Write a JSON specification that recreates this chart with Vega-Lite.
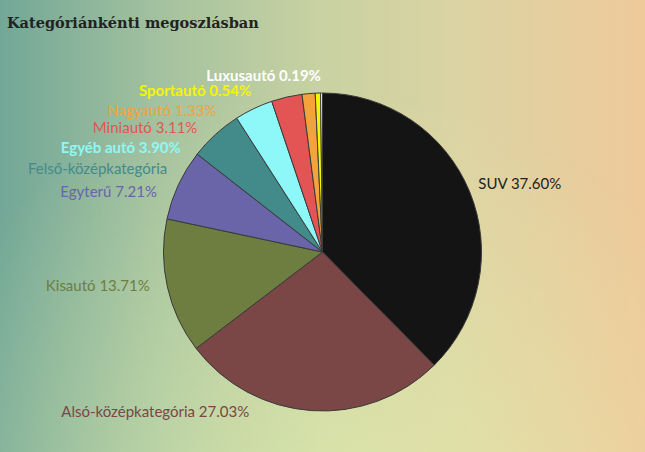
{
  "$schema": "https://vega.github.io/schema/vega-lite/v6.json",
  "padding": 0,
  "spacing": 0,
  "background": "#d8d6a6",
  "config": {"view": {"stroke": null}, "concat": {"spacing": 0}},
  "title": {
    "text": "Kategóriánkénti megoszlásban",
    "anchor": "start",
    "dx": 7,
    "offset": -42,
    "baseline": "alphabetic",
    "font": "DejaVu Serif",
    "fontSize": 14.5,
    "fontWeight": "bold",
    "color": "#222222"
  },
  "datasets": {
    "kat": [
      {"rang": 1, "kategoria": "SUV", "ertek": 37.60, "felirat": "SUV 37.60%"},
      {"rang": 2, "kategoria": "Alsó-középkategória", "ertek": 27.03, "felirat": "Alsó-középkategória 27.03%"},
      {"rang": 3, "kategoria": "Kisautó", "ertek": 13.71, "felirat": "Kisautó 13.71%"},
      {"rang": 4, "kategoria": "Egyterű", "ertek": 7.21, "felirat": "Egyterű 7.21%"},
      {"rang": 5, "kategoria": "Felső-középkategória", "ertek": 5.38, "felirat": "Felső-középkategória"},
      {"rang": 6, "kategoria": "Egyéb autó", "ertek": 3.90, "felirat": "Egyéb autó 3.90%"},
      {"rang": 7, "kategoria": "Miniautó", "ertek": 3.11, "felirat": "Miniautó 3.11%"},
      {"rang": 8, "kategoria": "Nagyautó", "ertek": 1.33, "felirat": "Nagyautó 1.33%"},
      {"rang": 9, "kategoria": "Sportautó", "ertek": 0.54, "felirat": "Sportautó 0.54%"},
      {"rang": 10, "kategoria": "Luxusautó", "ertek": 0.19, "felirat": "Luxusautó 0.19%"}
    ]
  },
  "vconcat": [
    {
      "width": 645,
      "height": 52,
      "data": {"values": [{}]},
      "mark": {
        "type": "rect",
        "color": {
          "gradient": "linear", "x1": 0, "y1": 0, "x2": 1, "y2": 0,
          "stops": [
            {"offset": 0, "color": "#72a797"},
            {"offset": 0.25, "color": "#a4c29f"},
            {"offset": 0.5, "color": "#c9d2a2"},
            {"offset": 0.72, "color": "#dcd3a3"},
            {"offset": 1, "color": "#eec99a"}
          ]
        }
      },
      "encoding": {}
    },
    {
      "width": 645,
      "height": 400,
      "layer": [
        {
          "data": {"values": [{}]},
          "mark": {
            "type": "rect",
            "color": {
              "gradient": "linear", "x1": 0, "y1": 0, "x2": 1, "y2": 0,
              "stops": [
                {"offset": 0, "color": "#72a797"},
                {"offset": 0.25, "color": "#a4c29f"},
                {"offset": 0.5, "color": "#c9d2a2"},
                {"offset": 0.72, "color": "#dcd3a3"},
                {"offset": 1, "color": "#eec99a"}
              ]
            }
          },
          "encoding": {}
        },
        {
          "data": {"values": [{}]},
          "mark": {
            "type": "rect",
            "color": {
              "gradient": "radial", "x1": 0.5, "y1": 1, "r1": 0, "x2": 0.5, "y2": 1, "r2": 0.75,
              "stops": [
                {"offset": 0, "color": "rgba(232,244,176,0.6)"},
                {"offset": 1, "color": "rgba(232,244,176,0)"}
              ]
            }
          },
          "encoding": {}
        },
        {
          "data": {"name": "kat"},
          "mark": {"type": "arc", "outerRadius": 159, "stroke": "#3a3a3a", "strokeWidth": 1},
          "encoding": {
            "theta": {"field": "ertek", "type": "quantitative"},
            "order": {"field": "rang", "type": "quantitative"},
            "color": {
              "field": "kategoria", "type": "nominal", "legend": null,
              "scale": {
                "domain": ["SUV", "Alsó-középkategória", "Kisautó", "Egyterű", "Felső-középkategória", "Egyéb autó", "Miniautó", "Nagyautó", "Sportautó", "Luxusautó"],
                "range": ["#141414", "#7a4646", "#6e7e40", "#6a64a8", "#438a8b", "#8ef8f8", "#e35555", "#f3a23c", "#f5f500", "#ffffff"]
              }
            }
          }
        },
        {
          "data": {"name": "kat"},
          "transform": [{"filter": "datum.rang > 1 && datum.rang != 6 && datum.rang < 9"}],
          "mark": {"type": "text", "radius": 176, "align": "right", "baseline": "middle", "font": "Lato", "fontSize": 15},
          "encoding": {
            "theta": {
              "field": "rang", "type": "quantitative",
              "scale": {"domain": [1, 2, 3, 4, 8, 9, 10], "range": [1.159, 3.571, 4.52, 5.058, 5.637, 5.866, 6.274]}
            },
            "text": {"field": "felirat"},
            "color": {
              "field": "kategoria", "type": "nominal", "legend": null,
              "scale": {
                "domain": ["SUV", "Alsó-középkategória", "Kisautó", "Egyterű", "Felső-középkategória", "Egyéb autó", "Miniautó", "Nagyautó", "Sportautó", "Luxusautó"],
                "range": ["#222222", "#7a4646", "#6e7e40", "#6a64a8", "#438a8b", "#8ef8f8", "#e35555", "#f3a23c", "#f5f500", "#ffffff"]
              }
            }
          }
        },
        {
          "data": {"name": "kat"},
          "transform": [{"filter": "datum.rang == 6 || datum.rang >= 9"}],
          "mark": {"type": "text", "radius": 176, "align": "right", "baseline": "middle", "font": "Lato", "fontSize": 15, "fontWeight": "bold"},
          "encoding": {
            "theta": {
              "field": "rang", "type": "quantitative",
              "scale": {"domain": [1, 2, 3, 4, 8, 9, 10], "range": [1.159, 3.571, 4.52, 5.058, 5.637, 5.866, 6.274]}
            },
            "text": {"field": "felirat"},
            "color": {
              "field": "kategoria", "type": "nominal", "legend": null,
              "scale": {
                "domain": ["SUV", "Alsó-középkategória", "Kisautó", "Egyterű", "Felső-középkategória", "Egyéb autó", "Miniautó", "Nagyautó", "Sportautó", "Luxusautó"],
                "range": ["#222222", "#7a4646", "#6e7e40", "#6a64a8", "#438a8b", "#8ef8f8", "#e35555", "#f3a23c", "#f5f500", "#ffffff"]
              }
            }
          }
        },
        {
          "data": {"name": "kat"},
          "transform": [{"filter": "datum.rang == 1"}],
          "mark": {"type": "text", "radius": 170, "align": "left", "baseline": "middle", "font": "Lato", "fontSize": 15, "color": "#222222"},
          "encoding": {
            "theta": {
              "field": "rang", "type": "quantitative",
              "scale": {"domain": [1, 2, 3, 4, 8, 9, 10], "range": [1.159, 3.571, 4.52, 5.058, 5.637, 5.866, 6.274]}
            },
            "text": {"field": "felirat"}
          }
        }
      ],
      "resolve": {"scale": {"theta": "independent", "color": "independent"}}
    }
  ]
}
